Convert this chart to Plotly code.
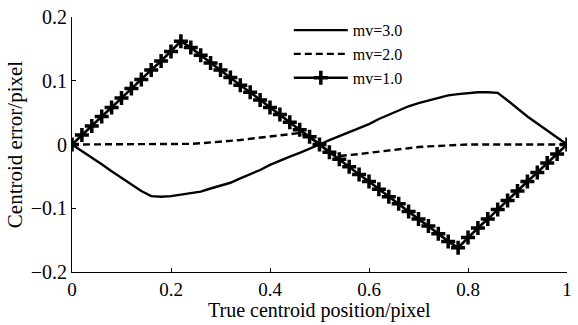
import plotly.graph_objects as go

x_vals = [round(i * 0.02, 2) for i in range(51)]

mv1_left = [0.0, 0.015, 0.029, 0.044, 0.058, 0.073, 0.088, 0.102, 0.117, 0.131, 0.146, 0.162,
            0.152, 0.140, 0.128, 0.117, 0.105, 0.093, 0.082, 0.070, 0.058, 0.047, 0.035, 0.023, 0.012, 0.0]
mv1_right = [-0.012, -0.023, -0.035, -0.047, -0.058, -0.070, -0.082, -0.093, -0.105, -0.117, -0.128,
             -0.140, -0.152, -0.162, -0.146, -0.131, -0.117, -0.102, -0.088, -0.073, -0.058, -0.044,
             -0.029, -0.015, 0.0]
mv1 = mv1_left + mv1_right

mv2_left = [0.0, 0.0, 0.0, 0.0, 0.0, 0.0, 0.0, 0.0, 0.0, 0.0, 0.0, 0.0,
            0.001, 0.002, 0.003, 0.004, 0.005, 0.007, 0.009, 0.011, 0.013, 0.015, 0.017, 0.018, 0.012, 0.0]
mv2_right = [-0.012, -0.018, -0.017, -0.015, -0.013, -0.011, -0.009, -0.007, -0.005, -0.004, -0.003,
             -0.002, -0.001, 0.0, 0.0, 0.0, 0.0, 0.0, 0.0, 0.0, 0.0, 0.0, 0.0, 0.0, 0.0]
mv2 = mv2_left + mv2_right

mv3_left = [0.0, -0.010, -0.021, -0.031, -0.042, -0.052, -0.062, -0.073, -0.081, -0.082, -0.081,
            -0.079, -0.077, -0.074, -0.069, -0.065, -0.060, -0.053, -0.047, -0.040, -0.032, -0.025,
            -0.019, -0.013, -0.007, 0.0]
mv3_right = [0.007, 0.013, 0.019, 0.025, 0.032, 0.040, 0.047, 0.053, 0.060, 0.065, 0.069, 0.074,
             0.077, 0.079, 0.081, 0.082, 0.082, 0.081, 0.069, 0.056, 0.044, 0.033, 0.022, 0.011, 0.0]
mv3 = mv3_left + mv3_right

x_ticks = [0, 0.2, 0.4, 0.6, 0.8, 1]
x_tick_labels = ["0", "0.2", "0.4", "0.6", "0.8", "1"]
y_ticks = [-0.2, -0.1, 0, 0.1, 0.2]
y_tick_labels = ["\u22120.2", "\u22120.1", "0", "0.1", "0.2"]

font_family = "Liberation Serif, Times New Roman, serif"

fig = go.Figure()
fig.add_trace(go.Scatter(x=x_vals, y=mv3, mode="lines", name="mv=3.0", legendgroup="a",
                         line=dict(color="black", width=2.4)))
fig.add_trace(go.Scatter(x=x_vals, y=mv2, mode="lines", name="mv=2.0", legendgroup="b",
                         line=dict(color="black", width=2.4, dash="7px,4px")))
fig.add_trace(go.Scatter(x=x_vals, y=mv1, mode="lines+markers", name="mv=1.0", legendgroup="c",
                         line=dict(color="black", width=2.6),
                         marker=dict(symbol="cross-thin", size=10, color="black",
                                     line=dict(color="black", width=3.5))))

fig.update_layout(
    width=578, height=325,
    margin=dict(l=72, r=6, t=14, b=53),
    paper_bgcolor="white", plot_bgcolor="white",
    font=dict(family=font_family, size=20, color="black"),
    showlegend=True,
    legend=dict(x=0.438, y=1.015, xanchor="left", yanchor="top",
                bgcolor="rgba(0,0,0,0)", font=dict(size=16, family=font_family),
                itemwidth=54, traceorder="grouped", tracegroupgap=0),
    annotations=[dict(text="True centroid position/pixel", xref="paper", yref="paper",
                      x=0.5, y=-0.152, xanchor="center", yanchor="middle", showarrow=False,
                      font=dict(size=20, family=font_family, color="black"))],
)
fig.update_xaxes(range=[0, 1], tickvals=x_ticks, ticktext=x_tick_labels,
                 showline=True, linecolor="black", linewidth=1, mirror=False,
                 ticks="inside", ticklen=4, tickcolor="black", showgrid=False, zeroline=False,
                 tickfont=dict(size=19, family=font_family))
fig.update_yaxes(range=[-0.2, 0.2], tickvals=y_ticks, ticktext=y_tick_labels,
                 showline=True, linecolor="black", linewidth=1, mirror=False,
                 ticks="inside", ticklen=4, tickcolor="black", showgrid=False, zeroline=False,
                 title=dict(text="Centroid error/pixel", standoff=2,
                            font=dict(size=21, family=font_family)),
                 tickfont=dict(size=20, family=font_family))

fig.write_html("out.html")
